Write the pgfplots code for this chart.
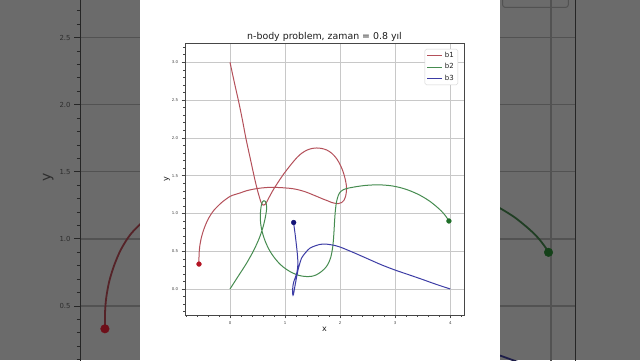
\documentclass[border=0pt]{standalone}
\usepackage{pgfplots}
\pgfplotsset{compat=1.18}
\usepackage{pgfplotstable}
\usepackage{fontspec}
\setmainfont{DejaVu Sans}

\definecolor{bggrey}{RGB}{107,107,107}
\definecolor{gridc}{RGB}{200,200,200}
\definecolor{spinec}{RGB}{70,70,70}
\definecolor{tickc}{RGB}{60,60,60}
\definecolor{titlec}{RGB}{30,30,30}
\definecolor{legc}{RGB}{210,210,210}
\definecolor{cone}{RGB}{180,80,90}
\definecolor{ctwo}{RGB}{70,140,80}
\definecolor{cthree}{RGB}{60,60,165}
\definecolor{conem}{RGB}{180,20,35}
\definecolor{ctwom}{RGB}{30,110,40}
\definecolor{cthreem}{RGB}{20,20,120}
\definecolor{dgrid}{RGB}{82,82,82}
\definecolor{dspine}{RGB}{38,38,38}
\definecolor{dtick}{RGB}{45,45,45}
\definecolor{done}{RGB}{85,35,40}
\definecolor{dtwo}{RGB}{32,62,36}
\definecolor{dthree}{RGB}{28,28,72}
\definecolor{donem}{RGB}{110,15,25}
\definecolor{dtwom}{RGB}{20,65,25}
\definecolor{dthreem}{RGB}{15,15,60}

\pgfplotstableread{
x y
0 3.0
0.08 2.73
0.163 2.46
0.23 2.22
0.29 1.99
0.37 1.72
0.454 1.44
0.505 1.29
0.54 1.2
0.565 1.145
0.59 1.115
0.615 1.11
0.645 1.125
0.68 1.17
0.73 1.24
0.80 1.33
0.907 1.45
0.968 1.515
1.089 1.63
1.21 1.735
1.30 1.795
1.39 1.835
1.48 1.858
1.573 1.866
1.66 1.86
1.754 1.84
1.85 1.795
1.936 1.725
2.00 1.645
2.05 1.56
2.09 1.46
2.113 1.37
2.115 1.30
2.10 1.23
2.07 1.175
2.03 1.145
1.966 1.13
1.90 1.135
1.845 1.145
1.78 1.165
1.69 1.19
1.60 1.218
1.51 1.245
1.42 1.272
1.33 1.295
1.21 1.318
1.09 1.332
0.907 1.342
0.726 1.345
0.55 1.335
0.42 1.32
0.30 1.30
0.18 1.27
0.09 1.25
0 1.225
-0.15 1.145
-0.30 1.035
-0.40 0.92
-0.47 0.80
-0.52 0.68
-0.55 0.56
-0.562 0.45
-0.563 0.33
}\tabone

\pgfplotstableread{
x y
0 0
0.15 0.17
0.30 0.34
0.43 0.51
0.53 0.67
0.60 0.82
0.645 0.96
0.665 1.06
0.66 1.12
0.64 1.16
0.615 1.168
0.59 1.155
0.57 1.11
0.556 1.04
0.55 0.95
0.558 0.86
0.58 0.77
0.62 0.67
0.67 0.58
0.726 0.50
0.80 0.42
0.88 0.35
0.968 0.29
1.09 0.23
1.21 0.19
1.30 0.172
1.39 0.165
1.48 0.168
1.56 0.185
1.64 0.22
1.72 0.27
1.78 0.33
1.83 0.42
1.86 0.53
1.878 0.65
1.89 0.78
1.90 0.91
1.915 1.05
1.936 1.16
1.97 1.245
2.01 1.29
2.06 1.315
2.15 1.335
2.30 1.355
2.45 1.37
2.60 1.377
2.72 1.378
2.85 1.372
2.96 1.362
3.10 1.34
3.25 1.305
3.39 1.262
3.50 1.22
3.63 1.16
3.75 1.09
3.84 1.03
3.90 0.98
3.95 0.93
3.975 0.90
}\tabtwo

\pgfplotstableread{
x y
4 0
3.75 0.06
3.5 0.125
3.25 0.188
3.0 0.25
2.75 0.32
2.5 0.40
2.25 0.48
2.0 0.555
1.875 0.58
1.76 0.593
1.69 0.595
1.62 0.588
1.55 0.572
1.45 0.54
1.37 0.48
1.30 0.41
1.26 0.32
1.235 0.25
1.215 0.18
1.195 0.10
1.177 0.03
1.163 -0.03
1.153 -0.07
1.145 -0.082
1.138 -0.065
1.137 -0.02
1.143 0.04
1.16 0.1
1.19 0.16
1.215 0.22
1.23 0.30
1.23 0.40
1.218 0.50
1.20 0.62
1.18 0.74
1.165 0.82
1.156 0.88
}\tabthree

\pgfplotsset{
  commonaxis/.style={
    anchor=south west, scale only axis,
    xmin=-0.817, xmax=4.249, ymin=-0.344, ymax=3.255,
    minor xtick={-0.8,-0.6,-0.4,-0.2,0.2,0.4,0.6,0.8,1.2,1.4,1.6,1.8,2.2,2.4,2.6,2.8,3.2,3.4,3.6,3.8,4.2},
    minor ytick={-0.3,-0.2,-0.1,0.1,0.2,0.3,0.4,0.6,0.7,0.8,0.9,1.1,1.2,1.3,1.4,1.6,1.7,1.8,1.9,2.1,2.2,2.3,2.4,2.6,2.7,2.8,2.9,3.1,3.2},
    grid=major,
    tick align=outside, tick pos=left,
    /pgf/number format/assume math mode=true,
    yticklabel style={/pgf/number format/.cd, fixed, fixed zerofill, precision=1},
    legend cell align=left,
  }
}

\begin{document}
\begin{tikzpicture}[x=1pt,y=1pt]
\useasboundingbox (0,0) rectangle (640,360);
\fill[bggrey] (0,0) rectangle (640,360);
\begin{scope}
\clip (0,0) rectangle (640,360);
\begin{axis}[commonaxis,
  at={(80.1pt,-59.2pt)}, width=495.2pt, height=482.8pt,
  xtick={0,1,2,3,4}, xticklabels={},
  ytick={0.5,1,1.5,2,2.5},
  extra y ticks={0,3}, extra y tick labels={},
  major grid style={draw=dgrid, line width=1.2pt},
  axis line style={draw=dspine, line width=1.1pt},
  major tick length=6pt, minor tick length=3.2pt,
  tick style={draw=dspine, line width=0.9pt},
  ticklabel style={font=\fontsize{6.9}{8}\selectfont, text=dtick},
  ylabel={y},
  ylabel style={at={(axis description cs:-0.0645,0.5)}, anchor=center, font=\fontsize{14}{16}\selectfont, text=dtick},
]
\addplot[done, line width=1.8pt, smooth] table {\tabone};
\addplot[dtwo, line width=1.8pt, smooth] table {\tabtwo};
\addplot[dthree, line width=1.8pt, smooth] table {\tabthree};
\addplot[only marks, mark=*, mark size=4.3pt, mark options={draw=donem, fill=donem}] coordinates {(-0.563,0.33)};
\addplot[only marks, mark=*, mark size=4.3pt, mark options={draw=dtwom, fill=dtwom}] coordinates {(3.975,0.90)};
\addplot[only marks, mark=*, mark size=4.3pt, mark options={draw=dthreem, fill=dthreem}] coordinates {(1.156,0.88)};
\end{axis}
% background copy of the legend frame (only its lower edge is visible)
\draw[dgrid, line width=1pt, rounded corners=2.6pt] (502.6,352.6) rectangle (568.3,420);
\fill[white] (140,-30) rectangle (500,390);
\end{scope}
\begin{axis}[commonaxis,
  at={(185pt,45pt)}, width=279pt, height=272pt,
  xtick={0,1,2,3,4},
  ytick={0,0.5,1,1.5,2,2.5,3},
  major grid style={draw=gridc, line width=0.7pt},
  axis line style={draw=spinec, line width=0.6pt},
  major tick length=3.4pt, minor tick length=1.8pt,
  tick style={draw=spinec, line width=0.5pt},
  ticklabel style={font=\fontsize{3.9}{4.5}\selectfont, text=tickc},
  title={n-body problem, zaman = 0.8 yıl},
  title style={at={(axis description cs:0.5,1)}, anchor=south, yshift=-8pt, font=\fontsize{9.4}{11}\selectfont, text=titlec},
  xlabel={x}, ylabel={y},
  xlabel style={at={(axis description cs:0.5,-0.0588)}, anchor=base, font=\fontsize{8}{9}\selectfont, text=titlec},
  ylabel style={at={(axis description cs:-0.0645,0.5)}, anchor=center, font=\fontsize{8}{9}\selectfont, text=titlec},
  legend style={at={(axis description cs:0.9785,0.978)}, anchor=north east, draw=legc, fill=white, rounded corners=1.5pt, font=\fontsize{7}{8}\selectfont, inner xsep=2pt, inner ysep=1pt, row sep=0.6pt, text=titlec},
  legend image code/.code={\draw[#1] (0pt,0pt) -- (15pt,0pt);},
]
\addplot[cone, line width=1pt, smooth] table {\tabone};
\addlegendentry{b1}
\addplot[ctwo, line width=1pt, smooth] table {\tabtwo};
\addlegendentry{b2}
\addplot[cthree, line width=1pt, smooth] table {\tabthree};
\addlegendentry{b3}
\addplot[only marks, mark=*, mark size=2.4pt, mark options={draw=conem, fill=conem}, forget plot] coordinates {(-0.563,0.33)};
\addplot[only marks, mark=*, mark size=2.4pt, mark options={draw=ctwom, fill=ctwom}, forget plot] coordinates {(3.975,0.90)};
\addplot[only marks, mark=*, mark size=2.4pt, mark options={draw=cthreem, fill=cthreem}, forget plot] coordinates {(1.156,0.88)};
\end{axis}
\end{tikzpicture}
\end{document}
